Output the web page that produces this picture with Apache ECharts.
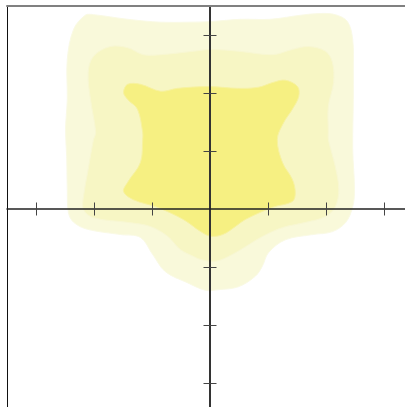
<!DOCTYPE html>
<html>
<head>
<meta charset="utf-8">
<script src="https://cdn.jsdelivr.net/npm/echarts@6/dist/echarts.min.js"></script>
<style>html,body{margin:0;padding:0;background:#fff}#c{width:405px;height:407px}</style>
</head>
<body>
<div id="c"></div>
<script>
// Contour levels (data units), clockwise from top-left
const outerContour = [[-2.15,3.34],[-2.01,3.35],[-1.42,3.27],[-0.85,3.22],[-0.39,3.22],[0,3.23],[0.53,3.27],[1.04,3.27],[1.56,3.34],[1.9,3.37],[2.16,3.35],[2.37,3.23],[2.46,2.92],[2.47,2.4],[2.47,1.89],[2.46,1.03],[2.49,0.34],[2.46,0.04],[2.34,-0.23],[2.11,-0.39],[1.77,-0.44],[1.3,-0.53],[1.01,-0.75],[0.9,-0.99],[0.78,-1.16],[0.49,-1.34],[0.15,-1.39],[-0.08,-1.4],[-0.39,-1.27],[-0.77,-1.08],[-0.99,-0.78],[-1.2,-0.49],[-1.54,-0.44],[-2.11,-0.35],[-2.35,-0.23],[-2.44,-0.06],[-2.46,0.34],[-2.47,0.9],[-2.49,1.37],[-2.46,1.89],[-2.46,2.58],[-2.35,3.1]];
const middleContour = [[-1.72,2.8],[-1.42,2.78],[-1.15,2.66],[-0.85,2.66],[-0.28,2.72],[0.01,2.75],[0.49,2.72],[1.08,2.66],[1.42,2.75],[1.7,2.8],[1.99,2.72],[2.11,2.53],[2.13,2.18],[2.04,1.77],[2.04,1.32],[2.04,1.2],[2.16,0.73],[2.22,0.34],[2.16,0.04],[1.99,-0.13],[1.65,-0.23],[1.25,-0.32],[0.91,-0.47],[0.61,-0.65],[0.39,-0.78],[0.1,-0.9],[-0.16,-0.87],[-0.28,-0.82],[-0.51,-0.7],[-0.73,-0.47],[-1.03,-0.3],[-1.42,-0.23],[-2.01,-0.15],[-2.18,-0.01],[-2.18,0.22],[-2.1,0.68],[-2.01,1.19],[-1.97,1.32],[-2.06,1.89],[-2.1,2.35],[-2.01,2.63]];
const innerContour = [[-1.42,2.15],[-1.2,2.15],[-0.85,2.03],[-0.56,2.08],[-0.03,2.11],[0.49,2.08],[0.84,2.1],[1.08,2.18],[1.3,2.22],[1.51,2.11],[1.53,1.94],[1.42,1.72],[1.27,1.49],[1.16,1.2],[1.25,0.8],[1.42,0.51],[1.47,0.28],[1.42,0.13],[1.08,0.03],[0.61,-0.18],[0.44,-0.3],[0.22,-0.44],[0.01,-0.47],[-0.16,-0.39],[-0.46,-0.18],[-0.91,0.03],[-1.32,0.16],[-1.49,0.3],[-1.42,0.46],[-1.2,0.8],[-1.16,1.2],[-1.16,1.32],[-1.25,1.72],[-1.42,1.89],[-1.49,2.01]];
const tickValues = [-3,-2,-1,1,2,3];
const axisMin = -3.5, axisMax = 3.5;

const chart = echarts.init(document.getElementById('c'));

function contourSeries(points, color, edge) {
  return {
    type: 'custom',
    xAxisIndex: 0, yAxisIndex: 0,
    data: points,
    encode: {x: 0, y: 1},
    clip: false,
    silent: true,
    z: 2,
    renderItem: function (params, api) {
      if (params.dataIndex !== 0) return null;
      const pts = points.map(p => api.coord(p));
      return {type: 'polygon', shape: {points: pts, smooth: 0.35},
        style: {fill: color, stroke: edge, lineWidth: 1}};
    }
  };
}

function mainAxis(dim, inside, showLine) {
  const base = {
    type: 'value', min: axisMin, max: axisMax, z: 10,
    splitLine: {show: false},
    axisLabel: {show: false},
    axisLine: {show: showLine, onZero: true, onZeroAxisIndex: 0,
      lineStyle: {color: dim === 'x' ? '#222' : '#333', width: dim === 'x' ? 1.5 : 2}},
    axisTick: {show: true, inside: inside, length: 6.5, customValues: tickValues,
      lineStyle: {color: '#444', width: 1}}
  };
  base.position = dim === 'x' ? 'bottom' : 'left';
  return base;
}

chart.setOption({
  animation: false,
  backgroundColor: '#fff',
  grid: {left: 7, top: 6, width: 406, height: 406, outerBoundsMode: 'none', containLabel: false},
  xAxis: [
    mainAxis('x', false, true),
    mainAxis('x', true, false),
    {type: 'value', min: axisMin, max: axisMax, position: 'top', z: 10,
      splitLine: {show: false}, axisLabel: {show: false}, axisTick: {show: false},
      axisLine: {show: true, onZero: false, lineStyle: {color: '#808080', width: 2}}}
  ],
  yAxis: [
    mainAxis('y', false, true),
    mainAxis('y', true, false),
    {type: 'value', min: axisMin, max: axisMax, position: 'left', z: 10,
      splitLine: {show: false}, axisLabel: {show: false}, axisTick: {show: false},
      axisLine: {show: true, onZero: false, lineStyle: {color: '#111', width: 1}}}
  ],
  series: [
    contourSeries(outerContour, '#f9f9da', '#fafae4'),
    contourSeries(middleContour, '#f7f6c4', '#f8f7d2'),
    contourSeries(innerContour, '#f6f082', '#f7f2a0')
  ]
});
</script>
</body>
</html>
